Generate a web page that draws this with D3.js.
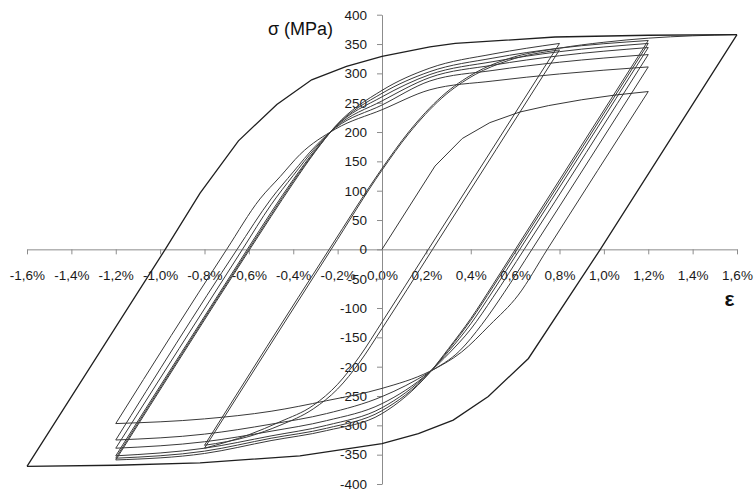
<!DOCTYPE html>
<html><head><meta charset="utf-8">
<script src="https://cdn.jsdelivr.net/npm/d3@7/dist/d3.min.js"></script>
<style>body{margin:0;background:#fff}svg{display:block}</style>
</head><body>
<svg id="chart" width="755" height="497"></svg>
<script>
// ---- tick values and labels ----
const xTickValues = [-1.6,-1.4,-1.2,-1.0,-0.8,-0.6,-0.4,-0.2,0,0.2,0.4,0.6,0.8,1.0,1.2,1.4,1.6];
const xTickLabels = ["-1,6%","-1,4%","-1,2%","-1,0%","-0,8%","-0,6%","-0,4%","-0,2%","0,0%","0,2%","0,4%","0,6%","0,8%","1,0%","1,2%","1,4%","1,6%"];
const yTickValues = [-400,-350,-300,-250,-200,-150,-100,-50,0,50,100,150,200,250,300,350,400];

// ---- branches: [strain %, stress MPa] ----
const initialLoading = [[0,0],[0.239,142],[0.362,189],[0.486,216],[0.62,234],[0.75,245],[0.9,255],[1.05,263],[1.2,269]];

// ±1.2 % cycles, descending branches (from peak to trough)
const down1 = [[1.2,269],[0.745,0],[0.614,-78],[0.486,-129],[0.359,-175],[0.215,-208],[0,-237],[-0.25,-258],[-0.5,-276],[-0.8,-289],[-1.2,-297]];
const down2 = [[1.2,311],[0.676,0],[0.55,-74],[0.45,-128],[0.35,-173],[0.215,-209],[0,-251],[-0.25,-280],[-0.5,-298],[-0.8,-315],[-1.2,-325]];
const down3 = [[1.2,332],[0.641,0],[0.5,-82],[0.4,-136],[0.3,-178],[0.215,-209],[0,-263],[-0.25,-292],[-0.5,-310],[-0.8,-328],[-1.2,-339]];
const down4 = [[1.2,344],[0.621,0],[0.5,-71],[0.4,-127],[0.3,-174],[0.215,-209],[0,-270],[-0.25,-300],[-0.5,-318],[-0.8,-339],[-1.2,-352]];
const down5 = [[1.2,351],[0.609,0],[0.5,-64],[0.4,-121],[0.3,-171],[0.215,-210],[0,-275],[-0.25,-305],[-0.5,-322],[-0.8,-344],[-1.2,-356]];
const down6 = [[1.2,356],[0.601,0],[0.5,-60],[0.4,-118],[0.3,-169],[0.215,-210],[0,-280],[-0.25,-309],[-0.5,-326],[-0.8,-348],[-1.2,-359]];

// ±1.2 % cycles, ascending branches (from trough to next peak)
const up1 = [[-1.2,-297],[-0.7,0],[-0.55,86],[-0.459,124],[-0.369,162],[-0.21,205],[0,238],[0.216,272],[0.5,287],[0.8,299],[1.2,311]];
const up2 = [[-1.2,-325],[-0.653,0],[-0.5,86],[-0.4,132],[-0.3,176],[-0.21,207],[0,246],[0.216,287],[0.5,305],[0.8,319],[1.2,332]];
const up3 = [[-1.2,-339],[-0.629,0],[-0.5,76],[-0.4,126],[-0.3,173],[-0.21,208],[0,253],[0.216,293],[0.5,314],[0.8,330],[1.2,344]];
const up4 = [[-1.2,-352],[-0.607,0],[-0.5,63],[-0.4,119],[-0.3,170],[-0.21,209],[0,260],[0.216,298],[0.5,320],[0.8,337],[1.2,351]];
const up5 = [[-1.2,-356],[-0.601,0],[-0.5,59],[-0.4,116],[-0.3,168],[-0.21,209],[0,266],[0.216,303],[0.5,326],[0.8,343],[1.2,356]];
const up6 = [[-1.2,-359],[-0.596,0],[-0.5,56],[-0.4,113],[-0.3,167],[-0.21,210],[0,271],[0.216,309],[0.5,333],[0.8,351]];

// ±0.8 % cycles
const down08a = [[0.8,351],[0.209,0],[0,-124],[-0.1,-182],[-0.2,-230],[-0.31,-266],[-0.46,-294],[-0.6,-316],[-0.8,-339]];
const up08a   = [[-0.8,-339],[-0.229,0],[0,135],[0.12,197],[0.27,258],[0.42,298],[0.57,322],[0.8,340]];
const down08b = [[0.8,340],[0.228,0],[0,-135],[-0.1,-192],[-0.2,-238],[-0.31,-272],[-0.46,-300],[-0.6,-319],[-0.8,-334]];
const up08b   = [[-0.8,-334],[-0.238,0],[0,138],[0.12,200],[0.27,261],[0.42,301],[0.57,325],[0.8,343],[1.0,353],[1.2,360],[1.4,364],[1.6,366]];

// ±1.6 % cycle
const down16 = [[1.6,366],[0.984,0],[0.66,-186],[0.479,-251],[0.321,-291],[0.164,-314],[0,-331],[-0.37,-352],[-0.82,-364],[-1.2,-368],[-1.6,-370]];
const up16   = [[-1.6,-370],[-0.977,0],[-0.82,96],[-0.647,185],[-0.474,247],[-0.317,289],[-0.16,312],[0,329],[0.216,345],[0.33,351],[0.78,362],[1.2,365],[1.6,366]];

const smoothBranches = [down1,up1,down2,up2,down3,up3,down4,up4,down5,up5,down6,up6,down08a,up08a,down08b,up08b];
const kinkedBranches = [initialLoading, down16, up16];

// ---- drawing ----
const svg = d3.select("#chart");
const x = d3.scaleLinear().domain([-1.6,1.6]).range([27,737]);
const y = d3.scaleLinear().domain([-400,400]).range([484,14.7]);
const axisColor = "#8c8c8c";
const font = "'Liberation Sans', Arial, sans-serif";

const gx = svg.append("g").attr("transform", `translate(0,${y(0)})`)
  .call(d3.axisBottom(x).tickValues(xTickValues).tickSize(5).tickSizeOuter(0).tickPadding(16.5)
    .tickFormat((d,i) => xTickLabels[i]));
const gy = svg.append("g").attr("transform", `translate(${x(0)},0)`)
  .call(d3.axisLeft(y).tickValues(yTickValues).tickSize(5).tickSizeOuter(0).tickPadding(10)
    .tickFormat(d => String(d)));
[gx,gy].forEach(g => {
  g.select(".domain").attr("stroke", axisColor);
  g.selectAll(".tick line").attr("stroke", axisColor);
  g.selectAll(".tick text").attr("fill", "#1a1a1a").style("font-family", font).style("font-size","13.5px");
});

const lineSmooth = d3.line().x(d => x(d[0])).y(d => y(d[1])).curve(d3.curveMonotoneX);
const lineKink = d3.line().x(d => x(d[0])).y(d => y(d[1]));

svg.append("g").selectAll("path.s").data(smoothBranches).join("path")
  .attr("d", b => lineSmooth(b.slice().sort((a,c) => a[0]-c[0])))
  .attr("fill","none").attr("stroke","#3a3a3a").attr("stroke-width",1);
svg.append("g").selectAll("path.k").data(kinkedBranches).join("path")
  .attr("d", b => lineKink(b.slice().sort((a,c) => a[0]-c[0])))
  .attr("fill","none").attr("stroke","#1f1f1f").attr("stroke-width",(b,i) => i===0 ? 0.9 : 1.3);

svg.append("text").attr("x", 300.5).attr("y", 35).attr("text-anchor","middle")
  .style("font-family", font).style("font-size","18px").attr("fill","#111").text("σ (MPa)");
svg.append("text").attr("x", 729.5).attr("y", 306).attr("text-anchor","middle")
  .style("font-family", font).style("font-size","21px").style("font-weight","bold").attr("fill","#111").text("ε");
</script>
</body></html>
